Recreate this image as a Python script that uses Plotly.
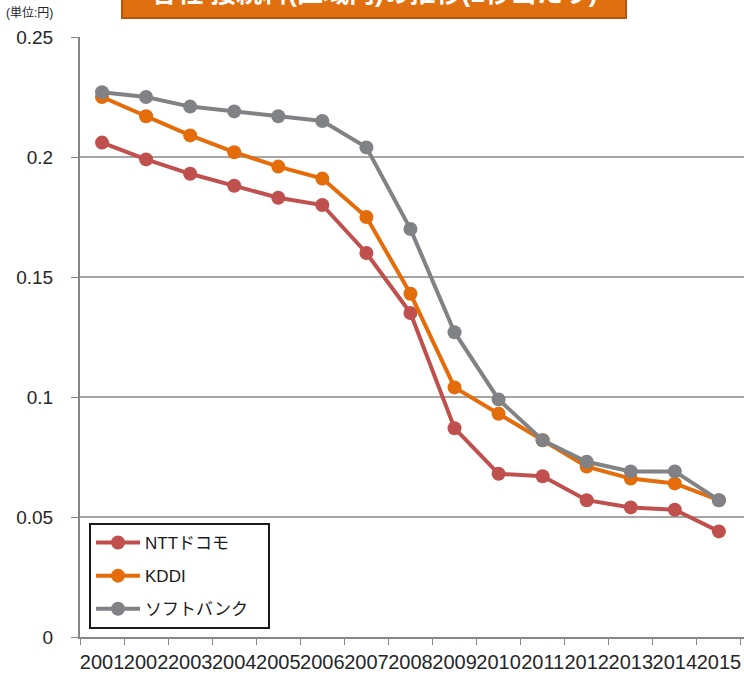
import plotly.graph_objects as go

years = [str(y) for y in range(2001, 2016)]
ntt = [0.206, 0.199, 0.193, 0.188, 0.183, 0.180, 0.160, 0.135, 0.087, 0.068, 0.067, 0.057, 0.054, 0.053, 0.044]
kddi = [0.225, 0.217, 0.209, 0.202, 0.196, 0.191, 0.175, 0.143, 0.104, 0.093, 0.082, 0.071, 0.066, 0.064, 0.057]
softbank = [0.227, 0.225, 0.221, 0.219, 0.217, 0.215, 0.204, 0.170, 0.127, 0.099, 0.082, 0.073, 0.069, 0.069, 0.057]
series_names = ["NTTドコモ", "KDDI", "ソフトバンク"]
colors = ["#C0504D", "#E46C0A", "#808285"]

fig = go.Figure()
for i, (name, vals, col) in enumerate(zip(series_names, [ntt, kddi, softbank], colors)):
    fig.add_trace(go.Scatter(
        x=years, y=vals, name=name + "\u00a0" * 3, mode="lines+markers",
        legendgroup="g%d" % i,
        line=dict(color=col, width=4),
        marker=dict(color=col, size=14),
    ))

font_family = "Liberation Sans, Noto Sans CJK JP, sans-serif"

fig.update_layout(
    width=744, height=677,
    margin=dict(l=80, r=0, t=37, b=40),
    paper_bgcolor="white", plot_bgcolor="white",
    font=dict(family=font_family, color="#262626"),
    showlegend=True,
    legend=dict(
        x=0.0136, y=0.19, xanchor="left", yanchor="top",
        bgcolor="white", bordercolor="#1a1a1a", borderwidth=2,
        font=dict(size=17, color="#1a1a1a"),
        itemwidth=44, tracegroupgap=8,
    ),
    xaxis=dict(
        type="category", range=[-0.5, 14.57],
        tickangle=0, tickson="boundaries", ticks="outside", ticklen=6,
        tickcolor="#868686", showline=True, linecolor="#868686", linewidth=2,
        showgrid=False, tickfont=dict(size=20, color="#262626"),
        ticklabelstandoff=6,
    ),
    yaxis=dict(
        range=[0, 0.25], tickvals=[0, 0.05, 0.1, 0.15, 0.2, 0.25],
        ticktext=["0", "0.05", "0.1", "0.15", "0.2", "0.25"],
        ticks="outside", ticklen=7, tickcolor="#868686",
        showline=True, linecolor="#868686", linewidth=2,
        showgrid=True, gridcolor="#A6A6A6", gridwidth=1.5,
        zeroline=False, tickfont=dict(size=19, color="#262626"),
        ticklabelstandoff=14,
    ),
)

# Title banner (cut off at top of the image, as in the reference)
fig.add_shape(type="rect", xref="paper", yref="paper",
              x0=(122 - 80) / 664, x1=(626 - 80) / 664,
              y0=(637 - 18) / 600, y1=(637 + 20) / 600,
              line=dict(color="#B5540A", width=2), fillcolor="#E0700F", layer="above")
fig.add_annotation(xref="paper", yref="paper",
                   x=(374 - 80) / 664, y=(637 - 10) / 600,
                   xanchor="center", yanchor="bottom",
                   text="<b>各社 接続料(区域内)の推移(1秒当たり)</b>",
                   showarrow=False, font=dict(size=26, color="white"))
fig.add_annotation(xref="paper", yref="paper",
                   x=-76 / 664, y=(637 - 13) / 600,
                   xanchor="left", yanchor="middle",
                   text="(単位:円)", showarrow=False,
                   font=dict(size=12, color="#262626"))

fig.write_html("out.html")
